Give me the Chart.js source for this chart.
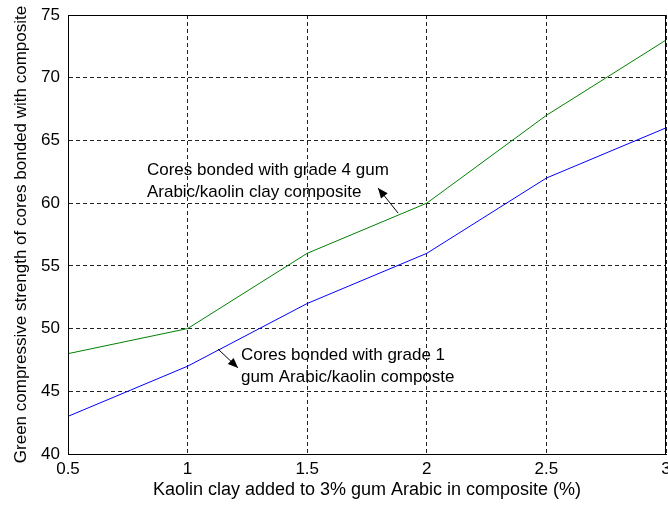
<!DOCTYPE html>
<html>
<head>
<meta charset="utf-8">
<script src="https://cdn.jsdelivr.net/npm/chart.js@4.4.1/dist/chart.umd.min.js"></script>
<style>
	html, body { margin: 0; padding: 0; background: #fff; }
</style>
</head>
<body>
<canvas id="graficoResistencia" width="668" height="506"></canvas>
<script>
var kaolin = [0.5, 1, 1.5, 2, 2.5, 3];
var grade4 = [48, 50, 56, 60, 67, 73];
var grade1 = [43, 47, 52, 56, 62, 66];
var xTicks = [0.5, 1, 1.5, 2, 2.5, 3];
var yTicks = [40, 45, 50, 55, 60, 65, 70, 75];

var textoGrade4 = ['Cores bonded with grade 4 gum', 'Arabic/kaolin clay composite'];
var textoGrade1 = ['Cores bonded with grade 1', 'gum Arabic/kaolin composte'];

// anotacoes em coordenadas de dados
var anotacoes = [
	{ linhas: textoGrade4, x: 0.83, y: [62.64, 60.89], de: [1.88, 59.21], para: [1.796, 61.21] },
	{ linhas: textoGrade1, x: 1.223, y: [47.85, 46.10], de: [1.127, 48.37], para: [1.211, 46.86] }
];

function pontos(xs, ys) {
	return xs.map(function(x, i) { return { x: x, y: ys[i] }; });
}

function fixarTicks(valores) {
	return function(scale) {
		scale.ticks = valores.map(function(v) { return { value: v }; });
	};
}

var pluginAnotacoes = {
	id: 'anotacoes',
	afterDraw: function(chart) {
		var ctx = chart.ctx;
		var area = chart.chartArea;
		var sx = chart.scales.x, sy = chart.scales.y;

		ctx.save();
		ctx.strokeStyle = '#000';
		ctx.lineWidth = 1;
		ctx.strokeRect(area.left + 0.5, area.top + 0.5, area.right - area.left - 1, area.bottom - area.top);

		ctx.fillStyle = '#000';
		ctx.font = '17px "Liberation Sans", Arial, sans-serif';
		ctx.textAlign = 'left';
		ctx.textBaseline = 'middle';
		anotacoes.forEach(function(a) {
			a.linhas.forEach(function(t, i) {
				ctx.fillText(t, sx.getPixelForValue(a.x), sy.getPixelForValue(a.y[i]));
			});
			var x1 = sx.getPixelForValue(a.de[0]), y1 = sy.getPixelForValue(a.de[1]);
			var x2 = sx.getPixelForValue(a.para[0]), y2 = sy.getPixelForValue(a.para[1]);
			var ang = Math.atan2(y2 - y1, x2 - x1);
			ctx.beginPath();
			ctx.moveTo(x1, y1);
			ctx.lineTo(x2, y2);
			ctx.stroke();
			ctx.beginPath();
			ctx.moveTo(x2, y2);
			ctx.lineTo(x2 - 11 * Math.cos(ang - 0.4), y2 - 11 * Math.sin(ang - 0.4));
			ctx.lineTo(x2 - 11 * Math.cos(ang + 0.4), y2 - 11 * Math.sin(ang + 0.4));
			ctx.closePath();
			ctx.fill();
		});
		ctx.restore();
	}
};

Chart.defaults.font.family = '"Liberation Sans", Arial, sans-serif';
Chart.defaults.font.size = 17;
Chart.defaults.color = '#000';

var ctx = document.getElementById('graficoResistencia').getContext('2d');
var grafico = new Chart(ctx, {
	type: 'line',
	data: {
		datasets: [{
			label: 'grade 4',
			data: pontos(kaolin, grade4),
			borderColor: '#008000',
			borderWidth: 1,
			pointRadius: 0,
			fill: false,
			tension: 0
		},
		{
			label: 'grade 1',
			data: pontos(kaolin, grade1),
			borderColor: '#0000ff',
			borderWidth: 1,
			pointRadius: 0,
			fill: false,
			tension: 0
		}]
	},
	options: {
		responsive: false,
		devicePixelRatio: 1,
		animation: false,
		layout: { padding: { top: 15, right: 2, left: 0, bottom: 0 } },
		plugins: {
			legend: { display: false },
			tooltip: { enabled: false }
		},
		scales: {
			x: {
				type: 'linear',
				min: 0.5,
				max: 3,
				afterBuildTicks: fixarTicks(xTicks),
				afterFit: function(scale) {
					scale.height = 52;
					scale.paddingLeft = 0;
					scale.paddingRight = 0;
				},
				ticks: { padding: 5, maxRotation: 0, autoSkip: false, callback: function(v) { return String(v); } },
				grid: { color: '#222', lineWidth: 1, drawTicks: false },
				border: { display: true, color: '#000', dash: [4, 3] },
				title: {
					display: true,
					text: 'Kaolin clay added to 3% gum Arabic in composite (%)',
					font: { size: 18 },
					padding: { top: 0, bottom: 5 }
				}
			},
			y: {
				min: 40,
				max: 75,
				afterBuildTicks: fixarTicks(yTicks),
				afterFit: function(scale) {
					scale.width = 68;
					scale.paddingTop = 0;
					scale.paddingBottom = 0;
				},
				ticks: { padding: 8, autoSkip: false },
				grid: { color: '#222', lineWidth: 1, drawTicks: false },
				border: { display: true, color: '#000', dash: [4, 3] },
				title: {
					display: true,
					text: 'Green compressive strength of cores bonded with composite',
					padding: { top: 11, bottom: 0 }
				}
			}
		}
	},
	plugins: [pluginAnotacoes]
});
</script>
</body>
</html>
